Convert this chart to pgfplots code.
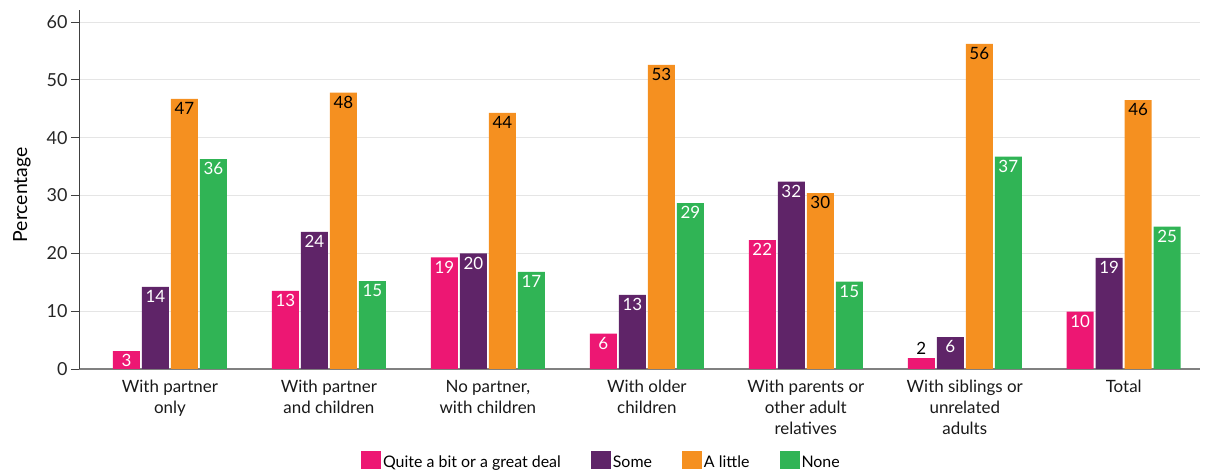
\documentclass[border=0pt]{standalone}
\usepackage{fontspec}
\setmainfont{Lato}
\usepackage{pgfplots}
\pgfplotsset{compat=1.18}
\definecolor{cpink}{RGB}{237,23,115}
\definecolor{cpurple}{RGB}{95,36,104}
\definecolor{corange}{RGB}{245,144,32}
\definecolor{cgreen}{RGB}{48,180,85}
\pgfplotsset{sq/.style={legend image code/.code={\fill[##1, draw=none] (0bp,-6bp) rectangle (20bp,12bp);}}}
\begin{document}
\begin{tikzpicture}
\path[use as bounding box] (0,0) rectangle (1207bp,472bp);
\begin{axis}[
  at={(79bp,103bp)}, anchor=south west,
  scale only axis, width=1121bp, height=358.6bp,
  xmin=-0.572, xmax=6.48, ymin=0, ymax=62,
  axis x line*=bottom, axis y line*=left,
  x axis line style={-, draw=black!50, line width=1.2pt},
  y axis line style={-, draw=black!75, line width=0.7pt},
  ymajorgrids, grid style={draw=black!10, line width=0.7pt},
  ytick={0,10,...,60}, xtick={0,...,6},
  xticklabels={{With partner\\only},{With partner\\and children},{No partner,\\with children},{With older\\children},{With parents or\\other adult\\relatives},{With siblings or\\unrelated\\adults},{Total}},
  tick align=outside, major tick length=8bp,
  ytick style={draw=black!75, line width=0.7pt},
  xtick style={draw=none},
  /pgf/number format/assume math mode=true,
  yticklabel style={font=\fontsize{18}{20}\selectfont, text=black!85},
  xticklabel style={font=\fontsize{17}{21}\selectfont, align=center, text=black!90},
  ylabel={Percentage},
  every axis y label/.style={at={(axis description cs:-0.0508,0.486)}, rotate=90, anchor=center, font=\fontsize{19.5}{21}\selectfont},
  legend style={at={(axis description cs:0.466,-0.2566)}, anchor=center, draw=none, fill=none, legend columns=4,
    font=\fontsize{16}{19}\selectfont,
    /tikz/every even column/.append style={column sep=28bp}},
  ybar, bar width=27bp,
  nodes near coords, point meta=explicit symbolic,
  every node near coord/.append style={anchor=north, font=\fontsize{17}{19}\selectfont, text=white},
]
\addplot[fill=cpink, draw=none, bar shift=-43.5bp, sq] coordinates {(0,3.1)[3] (1,13.5)[13] (2,19.3)[19] (3,6.1)[6] (4,22.3)[22] (5,1.9)[\phantom{2}] (6,9.9)[10]};
\addplot[fill=cpurple, draw=none, bar shift=-14.5bp, sq] coordinates {(0,14.2)[14] (1,23.7)[24] (2,20.0)[20] (3,12.8)[13] (4,32.4)[32] (5,5.5)[6] (6,19.2)[19]};
\addplot[fill=corange, draw=none, bar shift=14.5bp, sq, every node near coord/.append style={text=black}] coordinates {(0,46.7)[47] (1,47.8)[48] (2,44.3)[44] (3,52.6)[53] (4,30.4)[30] (5,56.2)[56] (6,46.5)[46]};
\addplot[fill=cgreen, draw=none, bar shift=43.5bp, sq] coordinates {(0,36.3)[36] (1,15.2)[15] (2,16.8)[17] (3,28.7)[29] (4,15.1)[15] (5,36.7)[37] (6,24.6)[25]};
\addplot[fill=none, draw=none, bar shift=-43.5bp, forget plot, every node near coord/.append style={anchor=south, text=black}] coordinates {(5,1.9)[2]};
\legend{Quite a bit or a great deal, Some, A little, None}
\end{axis}
\end{tikzpicture}
\end{document}
